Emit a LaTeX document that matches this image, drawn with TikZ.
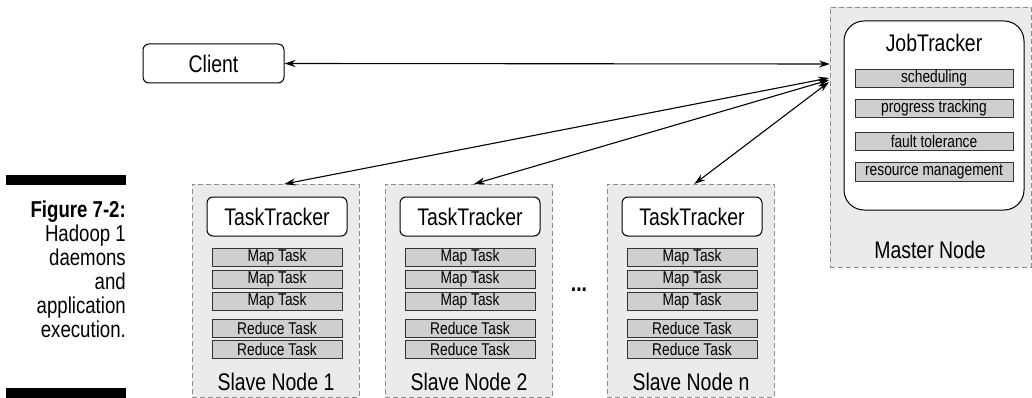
\documentclass[tikz,border=0pt]{standalone}
\usepackage{fontspec}
\setmainfont{Liberation Sans}[FakeStretch=0.81]
\usetikzlibrary{arrows.meta}
\usetikzlibrary{calc}

\definecolor{boxgray}{HTML}{EBEBEB}
\definecolor{bargray}{HTML}{CFCFCF}
\definecolor{dashgray}{HTML}{8C8C8C}

\tikzset{
    nodebox/.style={draw=dashgray, fill=boxgray, line width=0.9pt, dash pattern=on 5pt off 3pt, anchor=north west, inner sep=0pt},
    daemon/.style={draw, fill=white, line width=1pt, rounded corners=6pt, inner sep=0pt, font=\fontsize{24}{26}\selectfont},
    taskbar/.style={draw=black!80, fill=bargray, line width=1pt, minimum width=130pt, minimum height=18pt, inner sep=0pt, font=\fontsize{17}{18}\selectfont},
    jobbar/.style={taskbar, minimum width=158pt},
    biglabel/.style={font=\fontsize{24}{26}\selectfont},
    link/.style={{Stealth[length=11pt,width=7pt]}-{Stealth[length=11pt,width=7pt]}, line width=1.1pt}
}

\begin{document}
\begin{tikzpicture}[x=1pt, y=-1pt]
    \useasboundingbox (0,0) rectangle (1032,398);

    % caption
    \fill (6,175) rectangle (126,185);
    \fill (6,388) rectangle (126,398);
    \node[anchor=east, align=right, inner sep=0pt, font=\fontsize{23}{24}\selectfont] (caption) at (126,269)
        {\textbf{Figure 7-2:}\\Hadoop 1\\daemons\\and\\application\\execution.};

    % client
    \node[daemon, minimum width=141pt, minimum height=39pt] (client) at (213.5,63.5) {Client};

    % master node
    \node[nodebox, minimum width=201pt, minimum height=260pt] (master) at (830,7) {};
    \node[daemon, rounded corners=20pt, minimum width=180pt, minimum height=189pt] (jt) at (934,115.5) {};
    \node[biglabel] (jtlabel) at (934,43) {JobTracker};
    \foreach \y/\t [count=\k] in {78.5/scheduling, 108.5/progress tracking, 141.5/fault tolerance, 172/resource management}
        \node[jobbar] (jt-b\k) at (934,\y) {\t};
    \node[biglabel] (mlabel) at (930,250) {Master Node};

    % slave nodes
    \foreach \x/\n/\lab in {192/1/1, 385/2/2, 607/3/n} {
        \node[nodebox, minimum width=167pt, minimum height=213pt] (s\n) at (\x,184) {};
        \node[daemon, minimum width=140pt, minimum height=39pt] (tt\n) at (\x+85,216.5) {TaskTracker};
        \foreach \y/\t [count=\k] in {257.5/Map Task, 279/Map Task, 301/Map Task, 328/Reduce Task, 349/Reduce Task}
            \node[taskbar] (s\n-t\k) at (\x+85,\y) {\t};
        \node[biglabel] (slabel\n) at (\x+84,382) {Slave Node \lab};
    }

    \node[biglabel, font=\fontsize{24}{26}\selectfont\bfseries] (dots) at (579,290) {...};

    % connections
    \coordinate (mc) at ($(master.north west)+(0,57)$);
    \coordinate (m1) at ($(master.north west)+(-1,71)$);
    \coordinate (m2) at ($(master.north west)+(-1,73)$);
    \coordinate (m3) at ($(master.north west)+(-1,75)$);
    \draw[link] (client.east) -- (mc);
    \draw[link] ($(s1.north west)!0.55!(s1.north east)$) -- (m1);
    \draw[link] ($(s2.north west)!0.53!(s2.north east)$) -- (m2);
    \draw[link] ($(s3.north west)!0.52!(s3.north east)$) -- (m3);
\end{tikzpicture}
\end{document}
